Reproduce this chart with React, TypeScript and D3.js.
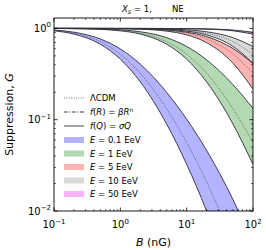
import * as d3 from 'd3'
import {useLayoutEffect} from 'react'

// magnetic field grid (nG)
const B_NG = [0.1, 0.2, 0.5, 1, 2, 5, 10, 20, 50, 100]

const ENERGY_LABELS = ['0.1', '1', '5', '10', '50']

// suppression G, lower edge / LCDM / upper edge per energy
const LOW_E01 = [0.9409, 0.8661, 0.6706, 0.4611, 0.2595, 0.08937, 0.03247, 0.009977, 0.001557, 0.0002859]
const MID_E01 = [0.9501, 0.8862, 0.7148, 0.5217, 0.3218, 0.1314, 0.05613, 0.02082, 0.004371, 0.001052]
const HIGH_E01 = [0.9601, 0.9085, 0.7659, 0.5962, 0.4061, 0.1992, 0.1013, 0.04605, 0.01331, 0.004291]

const LOW_E1 = [0.99738, 0.99298, 0.97577, 0.9409, 0.8661, 0.6706, 0.4611, 0.2595, 0.08937, 0.03247]
const MID_E1 = [0.9978, 0.9941, 0.9796, 0.9501, 0.8862, 0.7148, 0.5217, 0.3218, 0.1314, 0.05613]
const HIGH_E1 = [0.99846, 0.99587, 0.98567, 0.96482, 0.91893, 0.79077, 0.63396, 0.45201, 0.24154, 0.13311]

const LOW_E5 = [0.99973, 0.99919, 0.99703, 0.99204, 0.97954, 0.93325, 0.84965, 0.69883, 0.41548, 0.2164]
const MID_E5 = [0.9998, 0.9994, 0.9978, 0.9941, 0.9848, 0.9501, 0.8862, 0.7668, 0.5217, 0.3218]
const HIGH_E5 = [0.99984, 0.99953, 0.99828, 0.99539, 0.98812, 0.96086, 0.91004, 0.81315, 0.60201, 0.41299]

const LOW_E10 = [0.99987, 0.99973, 0.99892, 0.99703, 0.99204, 0.97256, 0.93325, 0.84965, 0.63537, 0.41548]
const MID_E10 = [0.9999, 0.9998, 0.9992, 0.9978, 0.9941, 0.9796, 0.9501, 0.8862, 0.7148, 0.5217]
const HIGH_E10 = [0.99993, 0.99986, 0.99944, 0.99846, 0.99587, 0.98567, 0.96482, 0.91893, 0.79077, 0.63396]

const LOW_E50 = [1.0, 1.0, 0.99988, 0.99976, 0.99929, 0.99738, 0.99298, 0.98194, 0.9409, 0.8661]
const MID_E50 = [1.0, 1.0, 0.9999, 0.9998, 0.9994, 0.9978, 0.9941, 0.9848, 0.9501, 0.8862]
const HIGH_E50 = [1.0, 1.0, 0.99992, 0.99984, 0.99952, 0.99825, 0.99531, 0.9879, 0.9601, 0.9085]

const LOWS = [LOW_E01, LOW_E1, LOW_E5, LOW_E10, LOW_E50]
const MIDS = [MID_E01, MID_E1, MID_E5, MID_E10, MID_E50]
const HIGHS = [HIGH_E01, HIGH_E1, HIGH_E5, HIGH_E10, HIGH_E50]

const X_TICKS = [0.1, 1, 10, 100]
const X_EXP = ['\u22121', '0', '1', '2']
const Y_TICKS = [0.01, 0.1, 1]
const Y_EXP = ['\u22122', '\u22121', '0']

const FILLS = ['#b3b3ff', '#b3d9b3', '#ffb3b3', '#d9d9d9', '#ffb3ff']

const W = 266
const H = 250
const left = 54, right = 253, top = 18, bottom = 211
const FONT = 'DejaVu Sans, sans-serif'

const App = () => {
    useLayoutEffect(() => {
        document.body.style.margin = '0'
    }, [])

    const x = d3.scaleLog().domain([0.1, 100]).range([left, right])
    const y = d3.scaleLog().domain([0.01, 1.3]).range([bottom, top])

    const idx = B_NG.map((_, i) => i)

    const line = (vals: number[]) => d3.line<number>()
        .x(i => x(B_NG[i]))
        .y(i => y(vals[i]))
        .curve(d3.curveMonotoneX)(idx)

    const area = (lo: number[], hi: number[]) => d3.area<number>()
        .x(i => x(B_NG[i]))
        .y0(i => y(lo[i]))
        .y1(i => y(hi[i]))
        .curve(d3.curveMonotoneX)(idx)

    // minor ticks
    const xMinor = x.ticks().filter(t => !X_TICKS.some(m => Math.abs(m - t) < 1e-9))
    const yMinor = y.ticks().filter(t => !Y_TICKS.some(m => Math.abs(m - t) < 1e-9) && t <= 1.3)

    const legendRows = [98, 112, 126, 140, 153.5, 167, 180.5, 194]
    const hx0 = 64, hx1 = 84, tx = 90

    return (
        <svg width={W} height={H} style={{display: 'block', background: '#fff'}} fontFamily={FONT}>
            <defs>
                <clipPath id="plotclip">
                    <rect x={left} y={top} width={right - left} height={bottom - top}/>
                </clipPath>
            </defs>

            <g clipPath="url(#plotclip)">
                {ENERGY_LABELS.map((e, k) => (
                    <path key={e} d={area(LOWS[k], HIGHS[k]) || ''} fill={FILLS[k]} stroke="none"/>
                ))}
                {ENERGY_LABELS.map((e, k) => (
                    <g key={'l' + e} fill="none">
                        <path d={line(LOWS[k]) || ''} stroke="#2b2b3a" strokeWidth={0.9}/>
                        <path d={line(HIGHS[k]) || ''} stroke="#2b2b3a" strokeWidth={0.9}/>
                        <path d={line(MIDS[k]) || ''} stroke="#444" strokeWidth={0.8} strokeDasharray="1,1.4"/>
                    </g>
                ))}
            </g>

            {/* frame */}
            <rect x={left} y={top} width={right - left} height={bottom - top} fill="none" stroke="#000" strokeWidth={0.9}/>

            {/* x ticks */}
            {X_TICKS.map((t, i) => (
                <g key={'xt' + t}>
                    <line x1={x(t)} x2={x(t)} y1={bottom} y2={bottom - 3.5} stroke="#000" strokeWidth={0.8}/>
                    <line x1={x(t)} x2={x(t)} y1={top} y2={top + 3.5} stroke="#000" strokeWidth={0.8}/>
                    <text x={x(t)} y={228} textAnchor="middle" fontSize={10}>
                        10<tspan dy={-4.5} fontSize={7}>{X_EXP[i]}</tspan>
                    </text>
                </g>
            ))}
            {xMinor.map(t => (
                <g key={'xm' + t}>
                    <line x1={x(t)} x2={x(t)} y1={bottom} y2={bottom - 2} stroke="#000" strokeWidth={0.6}/>
                    <line x1={x(t)} x2={x(t)} y1={top} y2={top + 2} stroke="#000" strokeWidth={0.6}/>
                </g>
            ))}

            {/* y ticks */}
            {Y_TICKS.map((t, i) => (
                <g key={'yt' + t}>
                    <line x1={left} x2={left + 3.5} y1={y(t)} y2={y(t)} stroke="#000" strokeWidth={0.8}/>
                    <line x1={right} x2={right - 3.5} y1={y(t)} y2={y(t)} stroke="#000" strokeWidth={0.8}/>
                    <text x={left - 3} y={y(t) + 3.5} textAnchor="end" fontSize={10}>
                        10<tspan dy={-4.5} fontSize={7}>{Y_EXP[i]}</tspan>
                    </text>
                </g>
            ))}
            {yMinor.map(t => (
                <g key={'ym' + t}>
                    <line x1={left} x2={left + 2} y1={y(t)} y2={y(t)} stroke="#000" strokeWidth={0.6}/>
                    <line x1={right} x2={right - 2} y1={y(t)} y2={y(t)} stroke="#000" strokeWidth={0.6}/>
                </g>
            ))}

            {/* axis labels */}
            <text transform={`translate(13,${(top + bottom) / 2}) rotate(-90)`} textAnchor="middle" fontSize={11}>
                Suppression, <tspan fontStyle="italic">G</tspan>
            </text>
            <text x={(left + right) / 2} y={246} textAnchor="middle" fontSize={11}>
                <tspan fontStyle="italic">B</tspan> (nG)
            </text>

            {/* title */}
            <text x={122} y={12} fontSize={8.5}>
                <tspan fontStyle="italic">X</tspan><tspan dy={2} fontSize={6.5} fontStyle="italic">s</tspan><tspan dy={-2}> = 1,</tspan>
            </text>
            <text x={172} y={12} fontSize={8.5}>NE</text>

            {/* legend */}
            <g fontSize={8.5}>
                <line x1={hx0} x2={hx1} y1={legendRows[0]} y2={legendRows[0]} stroke="#555" strokeWidth={0.8} strokeDasharray="1,1.4"/>
                <text x={tx} y={legendRows[0] + 3}>ΛCDM</text>
                <line x1={hx0} x2={hx1} y1={legendRows[1]} y2={legendRows[1]} stroke="#222" strokeWidth={0.9} strokeDasharray="4,1.5,1,1.5"/>
                <text x={tx} y={legendRows[1] + 3}>
                    <tspan fontStyle="italic">f</tspan>(<tspan fontStyle="italic">R</tspan>) = <tspan fontStyle="italic">βR</tspan><tspan dy={-3.5} fontSize={6} fontStyle="italic">n</tspan>
                </text>
                <line x1={hx0} x2={hx1} y1={legendRows[2]} y2={legendRows[2]} stroke="#666" strokeWidth={1.2}/>
                <text x={tx} y={legendRows[2] + 3}>
                    <tspan fontStyle="italic">f</tspan>(<tspan fontStyle="italic">Q</tspan>) = <tspan fontStyle="italic">σQ</tspan>
                </text>
                {ENERGY_LABELS.map((e, k) => (
                    <g key={'lg' + e}>
                        <rect x={hx0} y={legendRows[3 + k] - 3} width={hx1 - hx0} height={6} fill={FILLS[k]}/>
                        <text x={tx} y={legendRows[3 + k] + 3}>
                            <tspan fontStyle="italic">E</tspan> = {e} EeV
                        </text>
                    </g>
                ))}
            </g>
        </svg>
    )
}

export default App
